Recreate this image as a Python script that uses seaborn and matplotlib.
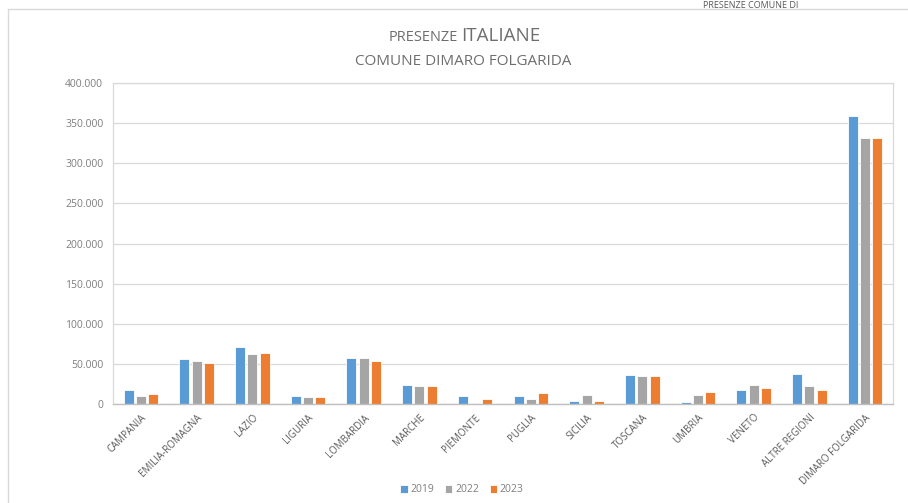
import pandas as pd
import matplotlib
matplotlib.use("Agg")
import matplotlib.pyplot as plt
from matplotlib.lines import Line2D
from matplotlib.ticker import FuncFormatter
import seaborn as sns

# Data
regioni = ["CAMPANIA", "EMILIA-ROMAGNA", "LAZIO", "LIGURIA", "LOMBARDIA", "MARCHE",
           "PIEMONTE", "PUGLIA", "SICILIA", "TOSCANA", "UMBRIA", "VENETO",
           "ALTRE REGIONI", "DIMARO FOLGARIDA"]
anni = ["2019", "2022", "2023"]
presenze_2019 = [17000, 55700, 71500, 10000, 57000, 24000, 9400, 10300, 4000, 36000, 2500, 17400, 37600, 359500]
presenze_2022 = [9700, 53600, 62000, 8700, 57000, 22800, 300, 6200, 11200, 35000, 11200, 24000, 22300, 331000]
presenze_2023 = [12800, 51000, 64000, 8500, 53400, 22800, 5700, 13600, 4000, 35000, 15300, 19900, 17800, 331000]
colori = ["#5B9BD5", "#A5A5A5", "#ED7D31"]

df = pd.DataFrame({
    "regione": regioni * 3,
    "anno": [anni[0]] * 14 + [anni[1]] * 14 + [anni[2]] * 14,
    "presenze": presenze_2019 + presenze_2022 + presenze_2023,
})

sns.set_theme(style="white")
plt.rcParams["font.family"] = ["Open Sans", "DejaVu Sans"]

W, H = 908, 503
fig = plt.figure(figsize=(W / 100, H / 100), dpi=100)
ax = fig.add_axes([113 / W, 1 - 404 / H, 780 / W, 321 / H])

sns.barplot(data=df, x="regione", y="presenze", hue="anno", palette=colori,
            saturation=1, width=0.66, gap=0.18, edgecolor="white", linewidth=0.6,
            errorbar=None, ax=ax, legend=True)

ax.set_ylim(0, 400000)
ax.set_yticks(range(0, 400001, 50000))
ax.yaxis.set_major_formatter(FuncFormatter(lambda v, p: f"{int(v):,}".replace(",", ".")))
ax.set_xlim(-0.5, 13.5)
ax.grid(axis="y", color="#D9D9D9", linewidth=0.9)
ax.set_axisbelow(True)
ax.set_xlabel("")
ax.set_ylabel("")
for s in ["left", "right", "top"]:
    ax.spines[s].set_color("#D9D9D9")
    ax.spines[s].set_linewidth(0.9)
ax.spines["bottom"].set_color("#BFBFBF")
ax.spines["bottom"].set_linewidth(1.0)

ax.tick_params(axis="y", labelsize=7.5, labelcolor="#7F7F7F", length=0, pad=7)
ax.tick_params(axis="x", labelsize=7, labelcolor="#595959", length=0, pad=6)
for lab in ax.get_xticklabels():
    lab.set_rotation(45)
    lab.set_ha("right")
    lab.set_rotation_mode("anchor")

# legend at the bottom
handles, labels = ax.get_legend_handles_labels()
ax.legend_.remove()
fig.legend(handles, labels, loc="center", bbox_to_anchor=(462 / W, 1 - 490 / H),
           ncol=3, frameon=False, fontsize=7.5, labelcolor="#7F7F7F",
           handlelength=0.7, handleheight=0.7, handletextpad=0.3, columnspacing=1.0)

# titles
fig.text(458 / W, 1 - 41 / H, "PRESENZE", ha="right", va="baseline", fontsize=10.5,
         color="#6E6E6E")
fig.text(461 / W, 1 - 41 / H, "ITALIANE", ha="left", va="baseline", fontsize=13.5,
         color="#6E6E6E")
fig.text(463 / W, 1 - 65 / H, "COMUNE DIMARO FOLGARIDA", ha="center", va="baseline",
         fontsize=11, color="#6E6E6E")

# title of the next chart at top right (partly off the picture in the source)
fig.text(703 / W, 1 - 0.5 / H, "PRESENZE COMUNE DI", ha="left", va="top", fontsize=6.5,
         color="#595959")

# chart frame
fig.add_artist(Line2D([8 / W, 1], [1 - 9 / H, 1 - 9 / H], color="#D9D9D9", linewidth=1.0))
fig.add_artist(Line2D([8 / W, 8 / W], [0, 1 - 9 / H], color="#D9D9D9", linewidth=1.0))

fig.savefig("out.png", dpi=100, facecolor="white")
